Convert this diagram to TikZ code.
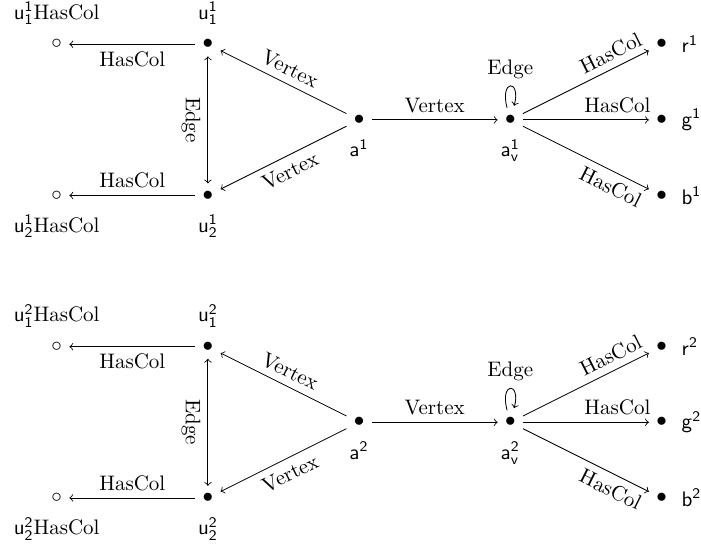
\documentclass[tikz,border=0pt]{standalone}
\usepackage{amsmath}
\begin{document}
\begin{tikzpicture}[x=72pt,y=36pt,>=to,
  vtx/.style={inner sep=0.3333em},
  elab/.style={font=\normalsize}]
\useasboundingbox (-0.375,0.586) rectangle (4.261,-6.663);
\foreach \i/\o in {1/0,2/-4}{
  \node[vtx,label=above:{$\mathsf{u^{\i}_1}$HasCol}] (cu1\i) at (0,\o) {$\circ$};
  \node[vtx,label=below:{$\mathsf{u^{\i}_2}$HasCol}] (cu2\i) at (0,\o-2) {$\circ$};
  \node[vtx,label=above:{$\mathsf{u^{\i}_1}$}] (u1\i) at (1,\o) {$\bullet$};
  \node[vtx,label=below:{$\mathsf{u^{\i}_2}$}] (u2\i) at (1,\o-2) {$\bullet$};
  \node[vtx,label=below:{$\mathsf{a^{\i}}$}] (a\i) at (2,\o-1) {$\bullet$};
  \node[vtx,label=below:{$\mathsf{a^{\i}_v}$}] (av\i) at (3,\o-1) {$\bullet$};
  \node[vtx,label=right:{$\mathsf{r^{\i}}$}] (r\i) at (4,\o) {$\bullet$};
  \node[vtx,label=right:{$\mathsf{g^{\i}}$}] (g\i) at (4,\o-1) {$\bullet$};
  \node[vtx,label=right:{$\mathsf{b^{\i}}$}] (b\i) at (4,\o-2) {$\bullet$};
  \draw[->] (u1\i) -- node[below]{HasCol} (cu1\i);
  \draw[->] (u2\i) -- node[above]{HasCol} (cu2\i);
  \draw[<->] (u1\i) -- node[midway,rotate=-90,anchor=north]{Edge} (u2\i);
  \draw[->] (a\i) -- node[sloped,above]{Vertex} (u1\i);
  \draw[->] (a\i) -- node[sloped,below]{Vertex} (u2\i);
  \draw[->] (a\i) -- node[above]{Vertex} (av\i);
  \draw[->] (av\i) edge[loop above] node[above]{Edge} (av\i);
  \draw[->] (av\i) -- node[sloped,above,near end]{HasCol} (r\i);
  \draw[->] (av\i) -- node[above,near end]{HasCol} (g\i);
  \draw[->] (av\i) -- node[sloped,below,near end]{HasCol} (b\i);
}
\end{tikzpicture}
\end{document}
